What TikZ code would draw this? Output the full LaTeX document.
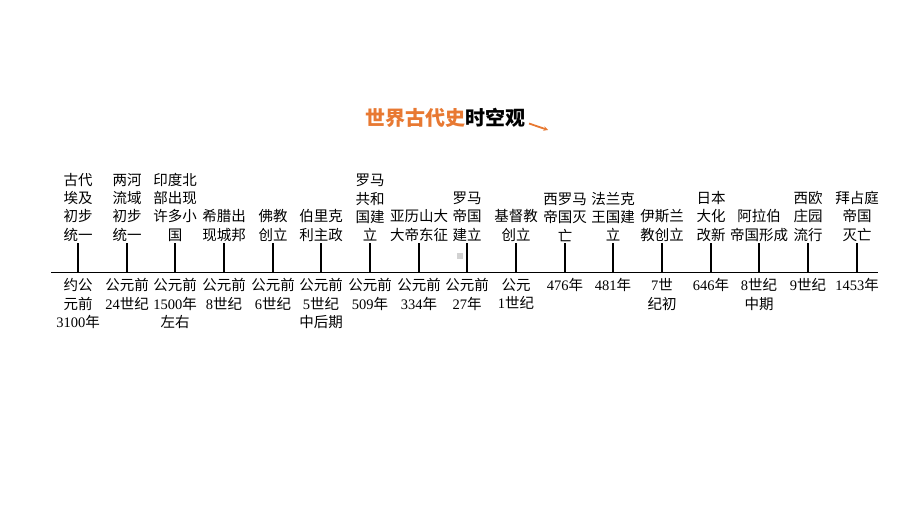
\documentclass[tikz,border=0pt]{standalone}
\usepackage{fontspec}
\setmainfont{Noto Sans CJK SC}
\newfontfamily\tnr{Liberation Serif}
\newcommand\nm[1]{{\tnr #1}}
\usetikzlibrary{arrows.meta}
\definecolor{titleorange}{RGB}{232,121,50}
\begin{document}
\begin{tikzpicture}[x=1pt,y=-1pt,
  lbl/.style={font=\fontsize{14.5}{18.3}\selectfont, align=center, inner sep=0pt},
  uplbl/.style={lbl, anchor=south},
  dnlbl/.style={lbl, anchor=north},
  tickline/.style={line width=1.5pt},
  axisline/.style={line width=1.7pt}]
\useasboundingbox (0,0) rectangle (920,518);
\fill[white] (0,0) rectangle (920,518);
% title
\node[font=\fontsize{20}{24}\selectfont\bfseries, inner sep=0pt] (title) at (445,118)
  {\textcolor{titleorange}{世界古代史}时空观};
\coordinate (ar1) at (529,123.5);
\coordinate (ar2) at (548,130);
\draw[titleorange, line width=1.8pt, -{Stealth[length=4.5pt,width=4.5pt]}] (ar1) -- (ar2);
% axis
\coordinate (L) at (51,272.5);
\coordinate (R) at (878,272.5);
\draw[axisline] (L) -- (R);
% ticks and labels
\foreach \i/\x/\a/\b in {
  1/78/{古代\\埃及\\初步\\统一}/{约公\\元前\\\nm{3100}年},
  2/127/{两河\\流域\\初步\\统一}/{公元前\\\nm{24}世纪},
  3/175/{印度北\\部出现\\许多小\\国}/{公元前\\\nm{1500}年\\左右},
  4/224/{希腊出\\现城邦}/{公元前\\\nm{8}世纪},
  5/273/{佛教\\创立}/{公元前\\\nm{6}世纪},
  6/321/{伯里克\\利主政}/{公元前\\\nm{5}世纪\\中后期},
  7/370/{罗马\\共和\\国建\\立}/{公元前\\\nm{509}年},
  8/419/{亚历山大\\大帝东征}/{公元前\\\nm{334}年},
  9/467/{罗马\\帝国\\建立}/{公元前\\\nm{27}年},
  10/516/{基督教\\创立}/{公元\\\nm{1}世纪},
  11/565/{西罗马\\帝国灭\\亡}/{\nm{476}年},
  12/613/{法兰克\\王国建\\立}/{\nm{481}年},
  13/662/{伊斯兰\\教创立}/{\nm{7}世\\纪初},
  14/711/{日本\\大化\\改新}/{\nm{646}年},
  15/759/{阿拉伯\\帝国形成}/{\nm{8}世纪\\中期},
  16/808/{西欧\\庄园\\流行}/{\nm{9}世纪},
  17/857/{拜占庭\\帝国\\灭亡}/{\nm{1453}年}} {
  \node[uplbl] (a\i) at (\x,241.5) {\a};
  \node[dnlbl] (b\i) at (\x,278.5) {\b};
  \coordinate (t\i) at (\x,272.5);
  \coordinate (h\i) at (\x,243.5);
  \draw[tickline] (t\i) -- (h\i);
}
% small grey mark
\fill[gray!35] (457,253) rectangle (463,259);
\end{tikzpicture}
\end{document}
